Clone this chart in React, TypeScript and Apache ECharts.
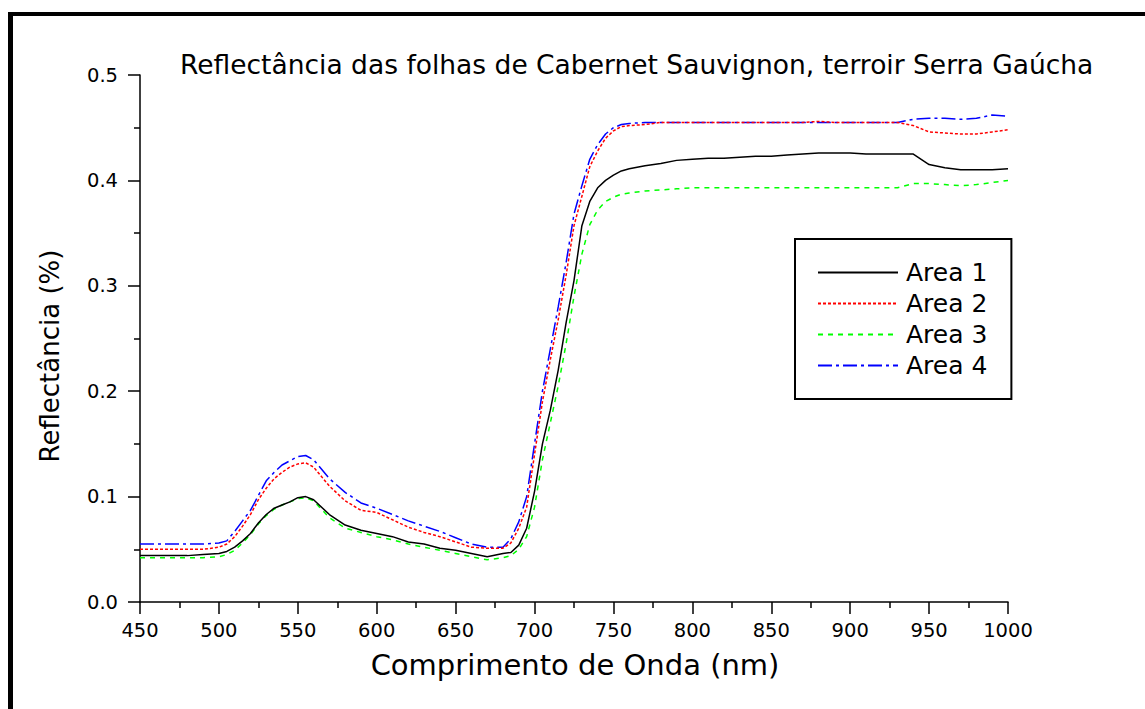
import React, { useEffect, useRef } from "react";
import * as echarts from "echarts";

const FONT = "DejaVu Sans";

const titleText = "Reflectância das folhas de Cabernet Sauvignon, terroir Serra Gaúcha";
const xName = "Comprimento de Onda (nm)";
const yName = "Reflectância (%)";
const seriesNames = ["Area 1", "Area 2", "Area 3", "Area 4"];

const wavelengths = [
  450, 460, 470, 480, 490, 500,
  505, 510, 515, 520, 525, 530, 535, 540, 545, 550, 555, 560,
  570, 580, 590, 600, 610, 620, 630, 640, 650, 660, 670, 680,
  685, 690, 695, 700, 705, 710, 715, 720, 725, 730, 735, 740, 745, 750, 755, 760,
  770, 780, 790, 800, 810, 820, 830, 840, 850, 860, 870, 880, 890, 900, 910, 920, 930, 940, 950, 960, 970, 980, 990, 1000,
];

const area1 = [
  0.044, 0.044, 0.044, 0.044, 0.045, 0.046,
  0.048, 0.052, 0.058, 0.065, 0.075, 0.083, 0.089, 0.092, 0.095, 0.099, 0.1, 0.097,
  0.083, 0.073, 0.068, 0.065, 0.062, 0.057, 0.055, 0.051, 0.049, 0.046, 0.043, 0.046,
  0.047, 0.054, 0.07, 0.105, 0.15, 0.182, 0.22, 0.265, 0.305, 0.357, 0.38, 0.393, 0.4, 0.405, 0.409, 0.411,
  0.414, 0.416, 0.419, 0.42, 0.421, 0.421, 0.422, 0.423, 0.423, 0.424, 0.425, 0.426, 0.426, 0.426, 0.425, 0.425, 0.425, 0.425, 0.415, 0.412, 0.41, 0.41, 0.41, 0.411,
];

const area2 = [
  0.05, 0.05, 0.05, 0.05, 0.05, 0.052,
  0.055, 0.062, 0.072, 0.083, 0.097, 0.108, 0.117, 0.123, 0.128, 0.131, 0.132, 0.128,
  0.11, 0.096, 0.087, 0.085, 0.078, 0.071, 0.066, 0.062, 0.057, 0.052, 0.051, 0.051,
  0.056, 0.07, 0.09, 0.14, 0.19, 0.23, 0.268, 0.31, 0.357, 0.385, 0.413, 0.428, 0.44, 0.447, 0.451, 0.452,
  0.453, 0.455, 0.455, 0.455, 0.455, 0.455, 0.455, 0.455, 0.455, 0.455, 0.455, 0.456, 0.455, 0.455, 0.455, 0.455, 0.455, 0.452, 0.446, 0.445, 0.444, 0.444, 0.446, 0.448,
];

const area3 = [
  0.042, 0.042, 0.042, 0.042, 0.042, 0.043,
  0.045, 0.049, 0.056, 0.064, 0.074, 0.082, 0.088, 0.092, 0.095, 0.098, 0.099, 0.096,
  0.08, 0.07, 0.066, 0.062, 0.059, 0.055, 0.052, 0.049, 0.046, 0.043, 0.04, 0.042,
  0.044, 0.05, 0.062, 0.09, 0.135, 0.17, 0.205, 0.245, 0.29, 0.33, 0.358, 0.372, 0.38, 0.384, 0.387, 0.388,
  0.39, 0.391, 0.392, 0.393, 0.393, 0.393, 0.393, 0.393, 0.393, 0.393, 0.393, 0.393, 0.393, 0.393, 0.393, 0.393, 0.393, 0.397, 0.397, 0.396, 0.395, 0.396, 0.398, 0.4,
];

const area4 = [
  0.055, 0.055, 0.055, 0.055, 0.055, 0.056,
  0.058, 0.067, 0.077, 0.087, 0.101, 0.115, 0.123, 0.13, 0.134, 0.138, 0.139, 0.135,
  0.117, 0.104, 0.094, 0.089, 0.083, 0.077, 0.072, 0.067, 0.061, 0.055, 0.052, 0.052,
  0.06, 0.076, 0.1, 0.15, 0.2, 0.24, 0.28, 0.322, 0.368, 0.395, 0.42, 0.434, 0.444, 0.45, 0.453, 0.454,
  0.455, 0.455, 0.455, 0.455, 0.455, 0.455, 0.455, 0.455, 0.455, 0.455, 0.455, 0.455, 0.455, 0.455, 0.455, 0.455, 0.455, 0.458, 0.459, 0.459, 0.458, 0.459, 0.462, 0.461,
];

const seriesValues = [area1, area2, area3, area4];
const seriesColors = ["#000000", "#ff0000", "#00ff00", "#0000ff"];
const seriesDash: any[] = ["solid", [3, 2], [5, 5], [14, 4, 3, 4]];

export default function App() {
  const ref = useRef<HTMLDivElement>(null);
  useEffect(() => {
    document.body.style.margin = "0";
    const chart = echarts.init(ref.current!, null, { renderer: "svg" });
    chart.setOption({
      animation: false,
      backgroundColor: "#ffffff",
      textStyle: { fontFamily: FONT, color: "#000" },
      title: {
        text: titleText,
        left: 180,
        top: 51,
        padding: 0,
        textStyle: { fontFamily: FONT, fontSize: 26.5, fontWeight: "normal", color: "#000" },
      },
      grid: { left: 140, right: 137, top: 75, bottom: 107, containLabel: false },
      legend: {
        orient: "vertical",
        left: 795,
        top: 239,
        padding: [21, 24, 21, 22],
        itemWidth: 80,
        itemHeight: 14,
        itemGap: 6,
        borderColor: "#000",
        borderWidth: 2,
        data: seriesNames,
        itemStyle: { opacity: 0 },
        textStyle: { fontFamily: FONT, fontSize: 25, color: "#000", padding: [0, 0, 0, 3] },
      },
      xAxis: {
        type: "value",
        min: 450,
        max: 1000,
        interval: 50,
        splitLine: { show: false },
        axisLine: { onZero: false, lineStyle: { color: "#000", width: 1.5 } },
        axisTick: { inside: false, length: 12, lineStyle: { color: "#000", width: 1.5 } },
        minorTick: { show: true, splitNumber: 2, length: 6, lineStyle: { color: "#000", width: 1.5 } },
        axisLabel: {
          margin: 18,
          fontFamily: FONT,
          fontSize: 19.5,
          color: "#000",
          formatter: (v: number) => String(v),
        },
      },
      yAxis: {
        type: "value",
        min: 0,
        max: 0.5,
        interval: 0.1,
        splitLine: { show: false },
        axisLine: { show: true, lineStyle: { color: "#000", width: 1.5 } },
        axisTick: { show: true, inside: false, length: 12, lineStyle: { color: "#000", width: 1.5 } },
        minorTick: { show: true, splitNumber: 2, length: 6, lineStyle: { color: "#000", width: 1.5 } },
        axisLabel: {
          margin: 22,
          fontFamily: FONT,
          fontSize: 19.5,
          color: "#000",
          formatter: (v: number) => v.toFixed(1),
        },
      },
      graphic: [
        { type: "rect", shape: { x: 8, y: 12, width: 1137, height: 4 }, style: { fill: "#000" } },
        { type: "rect", shape: { x: 8, y: 12, width: 5, height: 697 }, style: { fill: "#000" } },
        {
          type: "text",
          x: 50,
          y: 356,
          rotation: Math.PI / 2,
          style: {
            text: yName,
            textAlign: "center",
            textVerticalAlign: "middle",
            fontFamily: FONT,
            fontSize: 26,
            fill: "#000",
          },
        },
        {
          type: "text",
          x: 575,
          y: 665,
          style: {
            text: xName,
            textAlign: "center",
            textVerticalAlign: "middle",
            fontFamily: FONT,
            fontSize: 29,
            fill: "#000",
          },
        },
      ],
      series: seriesNames.map((name, i) => ({
        name,
        type: "line",
        symbol: "none",
        showSymbol: false,
        data: wavelengths.map((w, j) => [w, seriesValues[i][j]]),
        lineStyle: { color: seriesColors[i], width: 1.5, type: seriesDash[i] },
        itemStyle: { color: seriesColors[i] },
        z: 10 - i,
      })),
    });
    return () => chart.dispose();
  }, []);
  return <div ref={ref} style={{ width: 1145, height: 709 }} />;
}
